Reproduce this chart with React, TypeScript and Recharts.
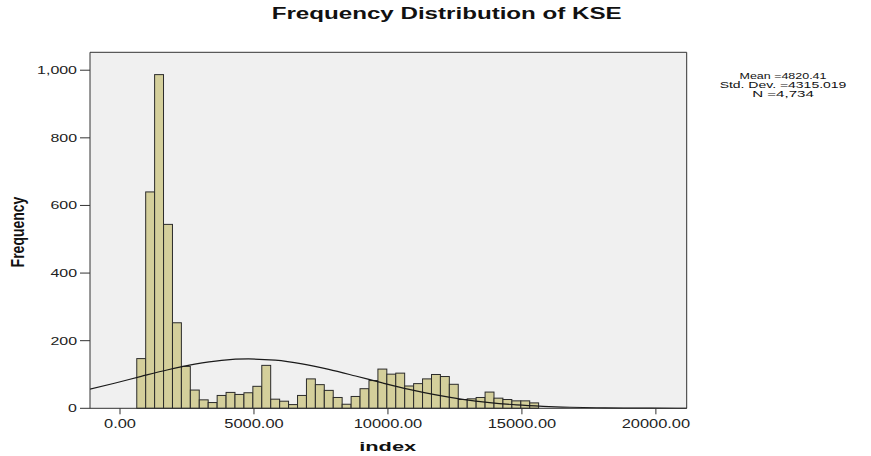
import React from 'react';
import { ComposedChart, Bar, Line, XAxis, YAxis, CartesianGrid, ReferenceLine } from 'recharts';

// Histogram bins (bin centre on the index scale) and their frequencies
const binCenters = [
  792, 1125, 1458, 1792, 2125, 2458, 2792, 3125, 3458, 3792, 4125, 4458, 4792, 5125, 5458,
  5792, 6125, 6458, 6792, 7125, 7458, 7792, 8125, 8458, 8792, 9125, 9458, 9792, 10125, 10458,
  10792, 11125, 11458, 11792, 12125, 12458, 12792, 13125, 13458, 13792, 14125, 14458, 14792, 15125, 15458,
];
const binCounts = [
  147, 640, 987, 544, 253, 124, 54, 25, 17, 38, 47, 41, 46, 65, 127,
  27, 21, 11, 38, 87, 70, 53, 32, 12, 35, 58, 82, 116, 101, 104,
  66, 73, 87, 100, 94, 71, 26, 28, 32, 48, 30, 26, 22, 22, 16,
];

// Normal curve overlay
const curveX = [
  -1208, -208, 792, 1792, 2792, 3792, 4792, 5792, 6792, 7792, 8792, 9792,
  10792, 11792, 12792, 13792, 14792, 15792, 16792, 17792, 18792, 19792, 20792, 21792,
];
const curveY = [
  55.0, 74.0, 94.4, 114.0, 130.6, 141.8, 145.9, 142.3, 131.4, 115.1, 95.5, 75.1,
  56.0, 39.6, 26.5, 16.8, 10.1, 5.8, 3.1, 1.6, 0.77, 0.35, 0.15, 0.06,
];

const xTicks = [0, 5000, 10000, 15000, 20000];
const yTicks = [0, 200, 400, 600, 800, 1000];
const xDomain = [-1120, 21150];
const yDomain = [0, 1053];

const titleText = 'Frequency Distribution of KSE';
const xLabel = 'index';
const yLabel = 'Frequency';
const statsLines = ['Mean =4820.41', 'Std. Dev. =4315.019', 'N =4,734'];

const FONT = '"Liberation Sans", Arial, Helvetica, sans-serif';
const BAR_FILL = '#d4cf9b';
const BAR_STROKE = '#2b2b2b';

const rowsMap = new Map<number, any>();
binCenters.forEach((x, i) => rowsMap.set(x, { x, count: binCounts[i] }));
curveX.forEach((x, i) => {
  const r = rowsMap.get(x) || { x };
  r.curve = curveY[i];
  rowsMap.set(x, r);
});
const data = Array.from(rowsMap.values()).sort((a, b) => a.x - b.x);

const XTick = (props: any) => {
  const { x, y, payload } = props;
  return (
    <text
      transform={`translate(${x},${y + 11.4}) scale(1.37,1)`}
      textAnchor="middle"
      fontSize={12}
      fill="#222"
      fontFamily={FONT}
    >
      {Number(payload.value).toFixed(2)}
    </text>
  );
};

const YTick = (props: any) => {
  const { x, y, payload } = props;
  return (
    <text
      transform={`translate(${x - 1},${y + 4}) scale(1.45,1)`}
      textAnchor="end"
      fontSize={11}
      fill="#222"
      fontFamily={FONT}
    >
      {Number(payload.value).toLocaleString('en-US')}
    </text>
  );
};

const BarShape = (p: any) => {
  const { x, y, width, height, payload } = p;
  if (
    payload == null ||
    payload.count == null ||
    ![x, y, width, height].every((v) => Number.isFinite(v)) ||
    height <= 0
  ) {
    return <g />;
  }
  return <rect x={x} y={y} width={width} height={height} fill={BAR_FILL} stroke={BAR_STROKE} strokeWidth={1} />;
};

export default function App() {
  return (
    <div style={{ position: 'absolute', left: 0, top: 0, width: 871, height: 456, background: '#fff' }}>
      <ComposedChart
        width={871}
        height={456}
        data={data}
        margin={{ top: 52.3, right: 184.3, bottom: 17.7, left: 0 }}
      >
        <CartesianGrid horizontal={false} vertical={false} fill="#f0f0f0" stroke="none" />
        <XAxis
          dataKey="x"
          type="number"
          domain={xDomain}
          ticks={xTicks}
          allowDataOverflow
          height={30}
          tickSize={6}
          tickLine={{ stroke: '#333' }}
          axisLine={{ stroke: '#333' }}
          tick={<XTick />}
          interval={0}
        />
        <YAxis
          type="number"
          domain={yDomain}
          ticks={yTicks}
          width={90}
          tickSize={10}
          tickLine={{ stroke: '#333' }}
          axisLine={{ stroke: '#333' }}
          tick={<YTick />}
          interval={0}
        />
        <ReferenceLine y={1053} stroke="#333" ifOverflow="visible" />
        <ReferenceLine x={21150} stroke="#333" ifOverflow="visible" />
        <Bar
          dataKey="count"
          barSize={8.9}
          fill={BAR_FILL}
          stroke={BAR_STROKE}
          isAnimationActive={false}
          shape={BarShape}
        />
        <Line
          dataKey="curve"
          type="monotone"
          stroke="#1a1a1a"
          strokeWidth={1.2}
          dot={false}
          activeDot={false}
          connectNulls
          isAnimationActive={false}
        />
      </ComposedChart>
      <svg
        width={871}
        height={456}
        style={{ position: 'absolute', left: 0, top: 0, pointerEvents: 'none' }}
      >
        <text
          x={446.7}
          y={18.5}
          textAnchor="middle"
          fontSize={16}
          fontWeight="bold"
          fontFamily={FONT}
          fill="#111"
          textLength={350}
          lengthAdjust="spacingAndGlyphs"
        >
          {titleText}
        </text>
        <text
          x={387.7}
          y={450.7}
          textAnchor="middle"
          fontSize={13}
          fontWeight="bold"
          fontFamily={FONT}
          fill="#111"
          textLength={57}
          lengthAdjust="spacingAndGlyphs"
        >
          {xLabel}
        </text>
        <text
          transform="translate(24,232) scale(1.37,1) rotate(-90)"
          textAnchor="middle"
          fontSize={14}
          fontWeight="bold"
          fontFamily={FONT}
          fill="#111"
        >
          {yLabel}
        </text>
        {statsLines.map((s, i) => (
          <text
            key={s}
            x={783}
            y={[79.3, 88.3, 97.3][i]}
            textAnchor="middle"
            fontSize={8.5}
            fontFamily={FONT}
            fill="#111"
            textLength={[87, 126.7, 61.7][i]}
            lengthAdjust="spacingAndGlyphs"
          >
            {s}
          </text>
        ))}
      </svg>
    </div>
  );
}
